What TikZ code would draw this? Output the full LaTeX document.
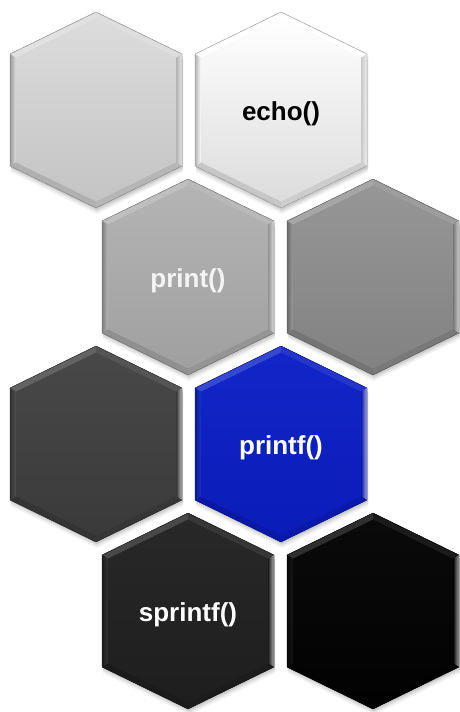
\documentclass[tikz,border=0pt]{standalone}
\usepackage{fontspec}
\setmainfont{Liberation Sans}
\tikzset{
  hexlabel/.style={font=\fontsize{26}{30}\selectfont\bfseries, inner sep=0pt},
}
\newcommand\hexouter{(0,-98) -- (86,-56) -- (86,56) -- (0,98) -- (-86,56) -- (-86,-56) -- cycle}
\newcommand\hexinner{(0,-91.3) -- (80,-52.25) -- (80,52.25) -- (0,91.3) -- (-80,52.25) -- (-80,-52.25) -- cycle}
% #1 name, #2 x, #3 y, #4 top colour, #5 bottom colour, #6 text, #7 text colour
\newcommand\hexcell[7]{%
\begin{scope}[shift={(#2,#3)}]
  \fill[#4!90!black] \hexouter;
  % facets
  \fill[#4!85!white] (0,-98) -- (0,-91.3) -- (-80,-52.25) -- (-86,-56) -- cycle;
  \fill[#4!93!white] (0,-98) -- (86,-56) -- (80,-52.25) -- (0,-91.3) -- cycle;
  \shade[left color=#5!90!black, right color=#5!35!white] (86,-56) -- (86,56) -- (80,52.25) -- (80,-52.25) -- cycle;
  \fill[#5!93!black] (86,56) -- (0,98) -- (0,91.3) -- (80,52.25) -- cycle;
  \fill[#5!90!black] (0,98) -- (-86,56) -- (-80,52.25) -- (0,91.3) -- cycle;
  \shade[left color=#4!70!black, right color=#4!95!white] (-86,56) -- (-86,-56) -- (-80,-52.25) -- (-80,52.25) -- cycle;
  \shade[top color=#4, bottom color=#5] \hexinner;
  \draw[#5!65!black, line width=0.4pt, line join=round] \hexouter;
  \node[hexlabel, text=#7] (#1) at (0,4) {#6};
\end{scope}}
\definecolor{cA1}{HTML}{DCDCDC}\definecolor{cA2}{HTML}{C4C4C4}
\definecolor{cB1}{HTML}{FFFFFF}\definecolor{cB2}{HTML}{DCDCDC}
\definecolor{cC1}{HTML}{B4B4B4}\definecolor{cC2}{HTML}{A0A0A0}
\definecolor{cD1}{HTML}{969696}\definecolor{cD2}{HTML}{828282}
\definecolor{cE1}{HTML}{484848}\definecolor{cE2}{HTML}{3A3A3A}
\definecolor{cF1}{HTML}{1226C8}\definecolor{cF2}{HTML}{0A1CB8}
\definecolor{cG1}{HTML}{282828}\definecolor{cG2}{HTML}{1E1E1E}
\definecolor{cH1}{HTML}{0A0A0A}\definecolor{cH2}{HTML}{020202}
\definecolor{txtlight}{HTML}{F4F4F4}
\begin{document}
\begin{tikzpicture}[x=1pt,y=-1pt]
\useasboundingbox (0,0) rectangle (459,712);
% soft shadows
\foreach \cx/\cy in {96/110,281/110,188/277,373/277,96/444,281/444,188/611,373/611}{
  \foreach \dy/\op in {6/0.05,4/0.07,2/0.09}{
    \fill[black,opacity=\op] ([shift={(\cx+1,\cy+\dy)}]0,-98) -- ([shift={(\cx+1,\cy+\dy)}]86,-56) -- ([shift={(\cx+1,\cy+\dy)}]86,56) -- ([shift={(\cx+1,\cy+\dy)}]0,98) -- ([shift={(\cx+1,\cy+\dy)}]-86,56) -- ([shift={(\cx+1,\cy+\dy)}]-86,-56) -- cycle;
  }
}
\hexcell{h1}{96}{110}{cA1}{cA2}{}{black}
\hexcell{echo}{281}{110}{cB1}{cB2}{echo()}{black}
\hexcell{print}{188}{277}{cC1}{cC2}{print()}{txtlight}
\hexcell{h4}{373}{277}{cD1}{cD2}{}{white}
\hexcell{h5}{96}{444}{cE1}{cE2}{}{white}
\hexcell{printf}{281}{444}{cF1}{cF2}{printf()}{white}
\hexcell{sprintf}{188}{611}{cG1}{cG2}{sprintf()}{white}
\hexcell{h8}{373}{611}{cH1}{cH2}{}{white}
\end{tikzpicture}
\end{document}
